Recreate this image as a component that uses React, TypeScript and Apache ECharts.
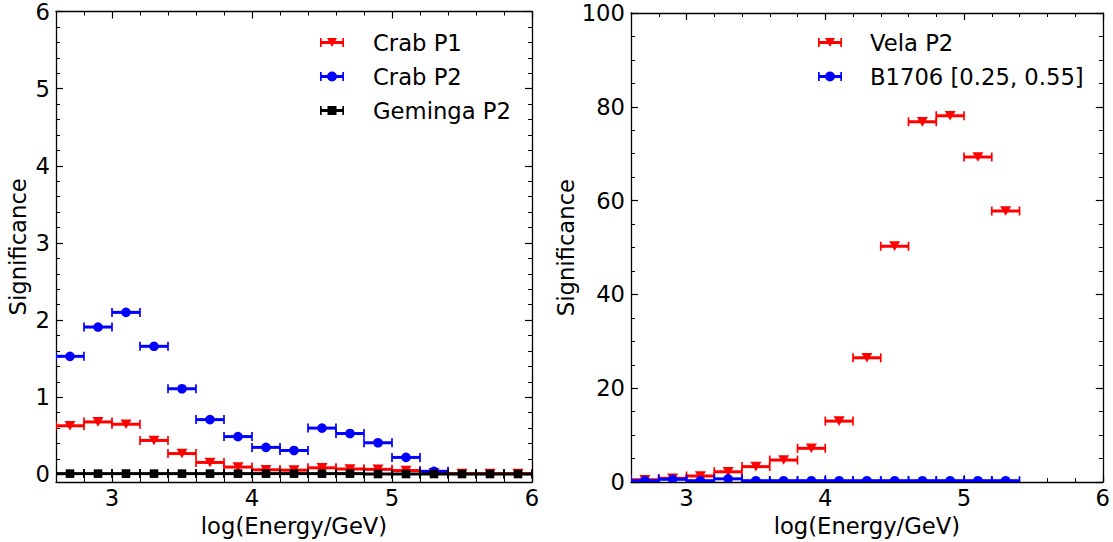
import React, { useEffect, useRef } from "react";
import * as echarts from "echarts";

// ---- data ----
const BIN_HALF_WIDTH = 0.1;
const binsLeft = [2.7, 2.9, 3.1, 3.3, 3.5, 3.7, 3.9, 4.1, 4.3, 4.5, 4.7, 4.9, 5.1, 5.3, 5.5, 5.7, 5.9];
const crabP1 = [0.63, 0.68, 0.65, 0.44, 0.27, 0.155, 0.095, 0.06, 0.055, 0.085, 0.07, 0.065, 0.05, 0.02, 0.01, 0.01, 0.01];
const crabP2 = [1.53, 1.91, 2.1, 1.66, 1.11, 0.71, 0.49, 0.35, 0.31, 0.6, 0.53, 0.41, 0.22, 0.04];
const gemingaP2 = [0.01, 0.01, 0.01, 0.01, 0.01, 0.01, 0.01, 0.01, 0.01, 0.01, 0.01, 0.005, 0.005, 0.005, 0.005, 0.005, 0.005];

const binsRight = [2.7, 2.9, 3.1, 3.3, 3.5, 3.7, 3.9, 4.1, 4.3, 4.5, 4.7, 4.9, 5.1, 5.3];
const velaP2 = [0.5, 0.8, 1.3, 2.2, 3.3, 4.7, 7.2, 13.0, 26.5, 50.3, 76.8, 78.1, 69.3, 57.8];
const b1706 = [0.3, 0.6, 0.3, 0.7, 0.3, 0.3, 0.3, 0.3, 0.3, 0.3, 0.3, 0.3, 0.3, 0.3];

const xMajorTicks = [3, 4, 5, 6];
const yMajorLeft = [0, 1, 2, 3, 4, 5, 6];
const yMajorRight = [0, 20, 40, 60, 80, 100];

const steps = (a: number, b: number, s: number) => {
  const out: number[] = [];
  const n = Math.round((b - a) / s);
  for (let i = 0; i <= n; i++) out.push(+(a + i * s).toFixed(6));
  return out;
};
const xMinorTicks = steps(2.6, 6, 0.2);
const yMinorLeft = steps(0, 6, 0.2);
const yMinorRight = steps(0, 100, 5);

const FONT = "DejaVu Sans";
const FS = 22.7;

const iconBar = "M0 3.5H24V6.5H0Z M0 0.5H1.7V9.5H0Z M22.3 0.5H24V9.5H22.3Z ";
const ICON_TRI = "path://" + iconBar + "M7 0.5H17L12 9.5Z";
const ICON_CIRC = "path://" + iconBar + "M7 5A5 5 0 1 1 17 5A5 5 0 1 1 7 5Z";
const ICON_SQ = "path://" + iconBar + "M7.5 0.5H16.5V9.5H7.5Z";

type Marker = "tri" | "circ" | "sq";

function makeRender(color: string, marker: Marker) {
  return (params: any, api: any) => {
    const x = api.value(0);
    const y = api.value(1);
    const p = api.coord([x, y]);
    const pl = api.coord([x - BIN_HALF_WIDTH, y]);
    const pr = api.coord([x + BIN_HALF_WIDTH, y]);
    const cap = 4.5;
    const cs = params.coordSys;
    let m: any;
    if (marker === "circ") {
      m = { type: "circle", shape: { cx: p[0], cy: p[1], r: 4.8 }, style: { fill: color } };
    } else if (marker === "tri") {
      m = {
        type: "polygon",
        shape: { points: [[p[0] - 5.5, p[1] - 4.8], [p[0] + 5.5, p[1] - 4.8], [p[0], p[1] + 4.8]] },
        style: { fill: color },
      };
    } else {
      m = { type: "rect", shape: { x: p[0] - 4.3, y: p[1] - 4.3, width: 8.6, height: 8.6 }, style: { fill: color } };
    }
    return {
      type: "group",
      clipPath: { type: "rect", shape: { x: cs.x, y: cs.y, width: cs.width, height: cs.height } },
      children: [
        { type: "line", shape: { x1: pl[0], y1: p[1], x2: pr[0], y2: p[1] }, style: { stroke: color, lineWidth: 3 } },
        { type: "line", shape: { x1: pl[0], y1: p[1] - cap, x2: pl[0], y2: p[1] + cap }, style: { stroke: color, lineWidth: 1.7 } },
        { type: "line", shape: { x1: pr[0], y1: p[1] - cap, x2: pr[0], y2: p[1] + cap }, style: { stroke: color, lineWidth: 1.7 } },
        m,
      ],
    };
  };
}

const pairs = (xs: number[], ys: number[]) => ys.map((v, i) => [xs[i], v]);

function xAxes(gridIndex: number, min: number, max: number) {
  const common = { type: "value", gridIndex, min, max, splitLine: { show: false } };
  return [
    {
      ...common,
      position: "bottom",
      name: "log(Energy/GeV)",
      nameLocation: "middle",
      nameGap: 29,
      nameTextStyle: { fontFamily: FONT, fontSize: FS, color: "#000" },
      axisLine: { show: true, onZero: false, lineStyle: { color: "#000", width: 1.3 } },
      axisTick: { show: true, inside: true, length: 7, customValues: xMajorTicks, lineStyle: { color: "#000", width: 1.2 } },
      axisLabel: { show: true, customValues: xMajorTicks, margin: 4, fontFamily: FONT, fontSize: FS, color: "#000" },
    },
    {
      ...common,
      position: "bottom",
      axisLine: { show: false, onZero: false },
      axisTick: { show: true, inside: true, length: 4, customValues: xMinorTicks, lineStyle: { color: "#000", width: 1 } },
      axisLabel: { show: false },
    },
    {
      ...common,
      position: "top",
      axisLine: { show: true, onZero: false, lineStyle: { color: "#000", width: 1.3 } },
      axisTick: { show: true, inside: true, length: 7, customValues: xMajorTicks, lineStyle: { color: "#000", width: 1.2 } },
      axisLabel: { show: false },
    },
    {
      ...common,
      position: "top",
      axisLine: { show: false, onZero: false },
      axisTick: { show: true, inside: true, length: 4, customValues: xMinorTicks, lineStyle: { color: "#000", width: 1 } },
      axisLabel: { show: false },
    },
  ];
}

function yAxes(gridIndex: number, min: number, max: number, major: number[], minor: number[], nameGap: number) {
  const common = { type: "value", gridIndex, min, max, splitLine: { show: false } };
  return [
    {
      ...common,
      position: "left",
      name: "Significance",
      nameLocation: "middle",
      nameGap,
      nameTextStyle: { fontFamily: FONT, fontSize: FS, color: "#000" },
      axisLine: { show: true, onZero: false, lineStyle: { color: "#000", width: 1.3 } },
      axisTick: { show: true, inside: true, length: 7, customValues: major, lineStyle: { color: "#000", width: 1.2 } },
      axisLabel: { show: true, customValues: major, margin: 6, fontFamily: FONT, fontSize: FS, color: "#000" },
    },
    {
      ...common,
      position: "left",
      axisLine: { show: false, onZero: false },
      axisTick: { show: true, inside: true, length: 4, customValues: minor, lineStyle: { color: "#000", width: 1 } },
      axisLabel: { show: false },
    },
    {
      ...common,
      position: "right",
      axisLine: { show: true, onZero: false, lineStyle: { color: "#000", width: 1.3 } },
      axisTick: { show: true, inside: true, length: 7, customValues: major, lineStyle: { color: "#000", width: 1.2 } },
      axisLabel: { show: false },
    },
    {
      ...common,
      position: "right",
      axisLine: { show: false, onZero: false },
      axisTick: { show: true, inside: true, length: 4, customValues: minor, lineStyle: { color: "#000", width: 1 } },
      axisLabel: { show: false },
    },
  ];
}

function customSeries(name: string, data: number[][], color: string, marker: Marker, xIdx: number, yIdx: number) {
  return {
    type: "custom",
    name,
    xAxisIndex: xIdx,
    yAxisIndex: yIdx,
    itemStyle: { color },
    renderItem: makeRender(color, marker),
    encode: { x: 0, y: 1 },
    data,
  };
}

const legendText = { fontFamily: FONT, fontSize: FS, color: "#000", lineHeight: 22, padding: [0, 0, 0, 24] };

export default function App() {
  const ref = useRef<HTMLDivElement>(null);
  useEffect(() => {
    if (!ref.current) return;
    const chart = echarts.init(ref.current, undefined, { renderer: "svg" });
    chart.setOption({
      animation: false,
      backgroundColor: "#fff",
      grid: [
        { left: 56, top: 11, width: 476, height: 472 },
        { left: 631, top: 13, width: 473, height: 470 },
      ],
      xAxis: [...xAxes(0, 2.6, 6), ...xAxes(1, 2.6, 6)],
      yAxis: [
        ...yAxes(0, -0.1, 6, yMajorLeft, yMinorLeft, 27),
        ...yAxes(1, 0, 100, yMajorRight, yMinorRight, 41),
      ],
      legend: [
        {
          left: 320,
          top: 31,
          orient: "vertical",
          padding: 0,
          itemGap: 11,
          itemWidth: 24,
          itemHeight: 10,
          textStyle: legendText,
          data: [
            { name: "Crab P1", icon: ICON_TRI },
            { name: "Crab P2", icon: ICON_CIRC },
            { name: "Geminga P2", icon: ICON_SQ },
          ],
        },
        {
          left: 818,
          top: 31,
          orient: "vertical",
          padding: 0,
          itemGap: 11,
          itemWidth: 24,
          itemHeight: 10,
          textStyle: { ...legendText, padding: [0, 0, 0, 23] },
          data: [
            { name: "Vela P2", icon: ICON_TRI },
            { name: "B1706 [0.25, 0.55]", icon: ICON_CIRC },
          ],
        },
      ],
      series: [
        customSeries("Crab P1", pairs(binsLeft, crabP1), "#ff0000", "tri", 0, 0),
        customSeries("Crab P2", pairs(binsLeft, crabP2), "#0000ff", "circ", 0, 0),
        customSeries("Geminga P2", pairs(binsLeft, gemingaP2), "#000000", "sq", 0, 0),
        customSeries("Vela P2", pairs(binsRight, velaP2), "#ff0000", "tri", 4, 4),
        customSeries("B1706 [0.25, 0.55]", pairs(binsRight, b1706), "#0000ff", "circ", 4, 4),
      ],
    });
    return () => chart.dispose();
  }, []);
  return (
    <div
      ref={ref}
      style={{ position: "fixed", left: 0, top: 0, width: 1113, height: 542, background: "#fff" }}
    />
  );
}
